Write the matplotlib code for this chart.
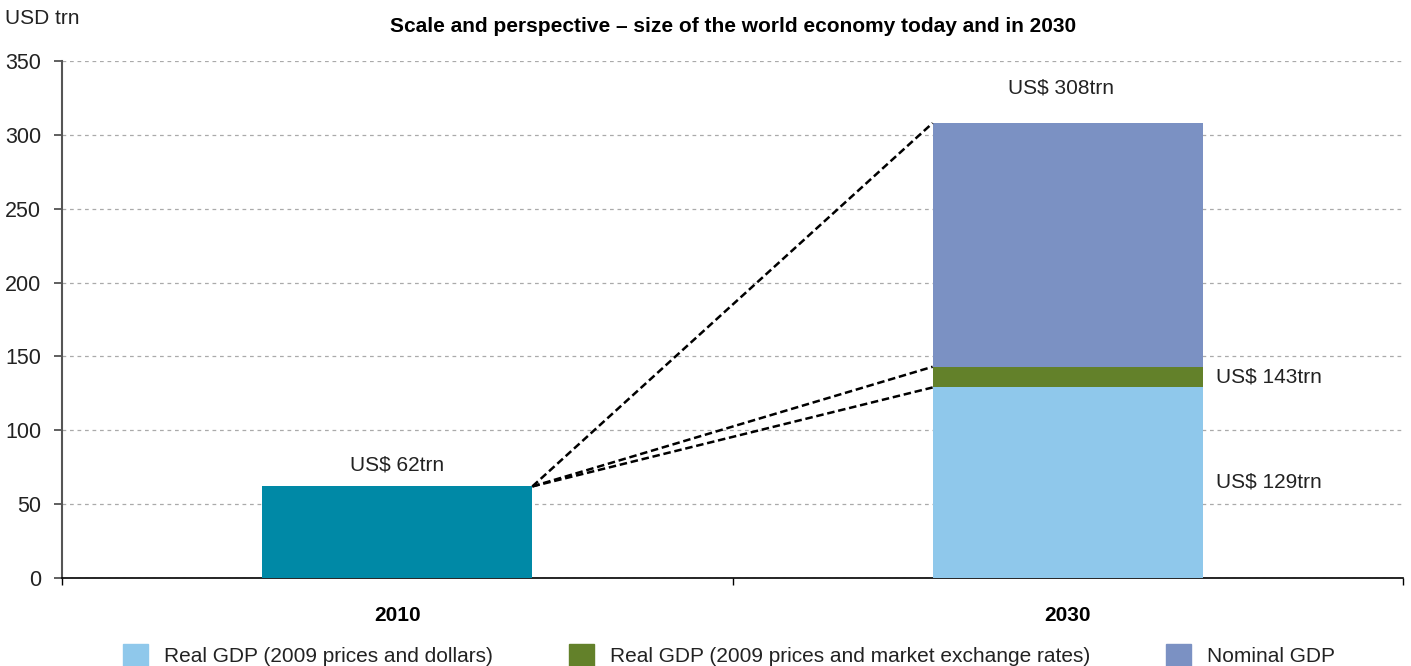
import matplotlib
matplotlib.use("Agg")
import matplotlib.pyplot as plt
from matplotlib.patches import Patch

plt.rcParams['font.family'] = ['Liberation Sans', 'DejaVu Sans']

years = ["2010", "2030"]
gdp_2010 = [62]
real_dollars_2030 = [129]
real_mer_2030 = [143]
nominal_2030 = [308]
legend_labels = ["Real GDP (2009 prices and dollars)",
                 "Real GDP (2009 prices and market exchange rates)",
                 "Nominal GDP"]
yticks = [0, 50, 100, 150, 200, 250, 300, 350]

c_teal = "#0089A6"
c_light = "#8FC8EB"
c_green = "#63812A"
c_nom = "#7B91C3"

FS = 15

fig = plt.figure(figsize=(14.11, 6.66), dpi=100)
ax = fig.add_axes([62/1411, (666-578)/666, (1403-62)/1411, (578-61)/666])

pos = [0.5, 1.5]
w = 0.403
ax.bar(pos[0], gdp_2010[0], width=w, color=c_teal, zorder=3)
ax.bar(pos[1], real_dollars_2030[0], width=w, color=c_light, zorder=3)
ax.bar(pos[1], real_mer_2030[0] - real_dollars_2030[0], bottom=real_dollars_2030[0],
       width=w, color=c_green, zorder=3)
ax.bar(pos[1], nominal_2030[0] - real_mer_2030[0], bottom=real_mer_2030[0],
       width=w, color=c_nom, zorder=3)

x0 = pos[0] + w/2
x1 = pos[1] - w/2
for v in [nominal_2030[0], real_mer_2030[0], real_dollars_2030[0]]:
    ax.plot([x0, x1], [gdp_2010[0], v], color="black", lw=1.8,
            linestyle=(0, (3, 1.5)), zorder=4)

ax.set_xlim(0, 2)
ax.set_ylim(0, 350)
ax.set_yticks(yticks)
ax.set_yticklabels([str(t) for t in yticks], fontsize=15.5, color="#222222")
ax.yaxis.grid(True, linestyle=(0, (3, 3)), color="#aaaaaa", lw=0.9, zorder=0)
ax.set_xticks([0, 1, 2])
ax.set_xticklabels([])
ax.set_xticks(pos, minor=True)
ax.set_xticklabels(years, minor=True, fontsize=FS, fontweight="bold")
ax.tick_params(axis='x', which='minor', length=0, pad=20)
ax.tick_params(axis='x', which='major', length=5, direction='out', width=1)
ax.tick_params(axis='y', length=6, width=1.2, color="#444444", pad=9)
for s in ["top", "right"]:
    ax.spines[s].set_visible(False)
ax.spines["left"].set_color("#555555")
ax.spines["left"].set_linewidth(1.5)
ax.spines["bottom"].set_color("black")
ax.spines["bottom"].set_linewidth(1.2)

ax.text(pos[0], gdp_2010[0] + 8, "US$ %dtrn" % gdp_2010[0], ha="center", va="bottom", fontsize=FS, color="#222222")
ax.text(pos[1] - 0.01, nominal_2030[0] + 17, "US$ %dtrn" % nominal_2030[0], ha="center", va="bottom", fontsize=FS, color="#222222")
ax.text(x1 + w + 0.02, 136, "US$ %dtrn" % real_mer_2030[0], ha="left", va="center", fontsize=FS, color="#222222")
ax.text(x1 + w + 0.02, 65, "US$ %dtrn" % real_dollars_2030[0], ha="left", va="center", fontsize=FS, color="#222222")

fig.text(5/1411, 1 - 19/666, "USD trn", ha="left", va="center", fontsize=FS, color="#222222")
fig.text(733/1411, 1 - 26/666, "Scale and perspective \u2013 size of the world economy today and in 2030",
         ha="center", va="center", fontsize=15, fontweight="bold")

handles = [Patch(color=c_light), Patch(color=c_green), Patch(color=c_nom)]
leg = fig.legend(handles, legend_labels, loc="center", bbox_to_anchor=(729/1411, 1 - 655/666),
                 ncol=3, frameon=False, fontsize=FS, handlelength=1.2, handleheight=1.2,
                 columnspacing=3.65, handletextpad=0.77, borderpad=0, borderaxespad=0)
for t in leg.get_texts():
    t.set_color("#222222")

fig.savefig("out.png", dpi=100)
